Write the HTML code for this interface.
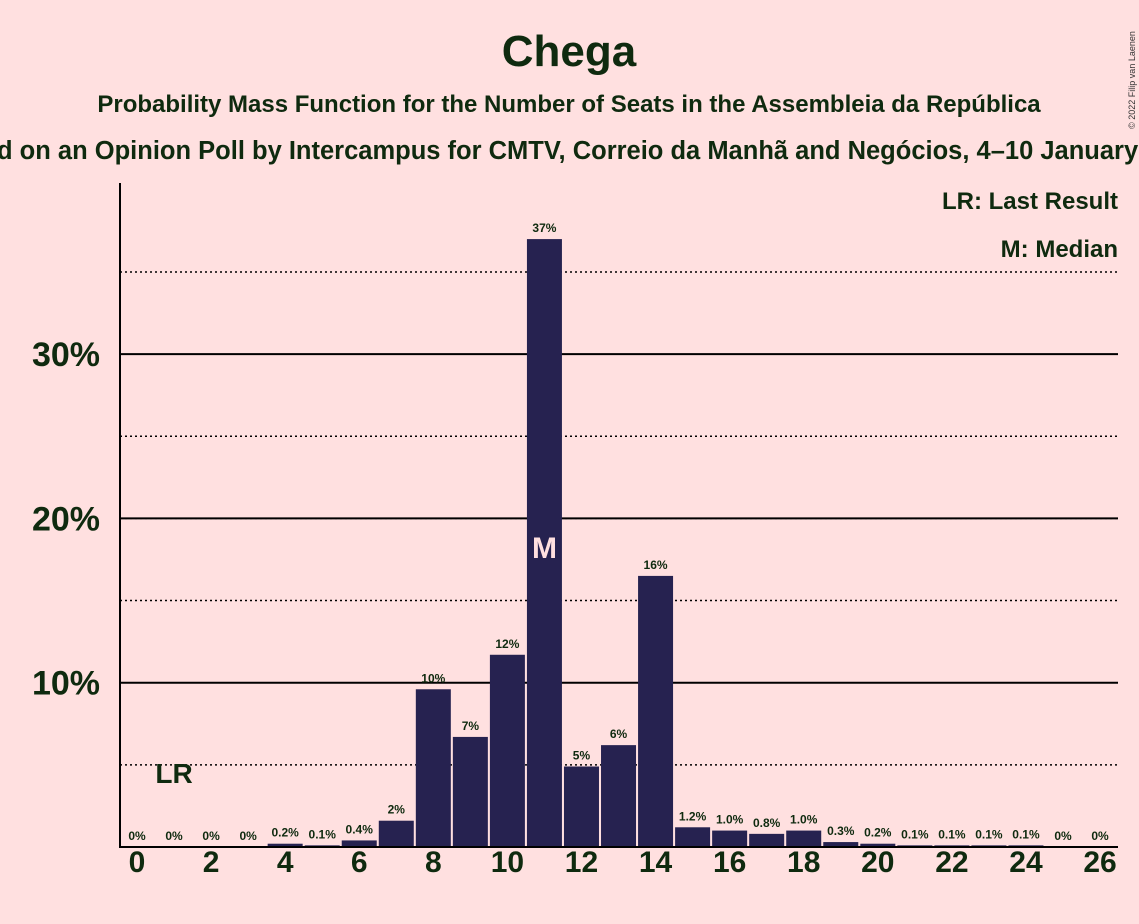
<!DOCTYPE html>
<html><head><meta charset="utf-8"><style>
body{margin:0;background:#ffe0e0;}
svg{display:block;font-family:"Liberation Sans",sans-serif;}
</style></head><body>
<svg id="chart" width="1139" height="924">
<rect width="1139" height="924" fill="#ffe0e0"/>
<text x="569" y="66" text-anchor="middle" font-size="44" font-weight="bold" fill="#0f2a0f">Chega</text>
<text x="569" y="112" text-anchor="middle" font-size="24" font-weight="bold" fill="#0f2a0f">Probability Mass Function for the Number of Seats in the Assembleia da República</text>
<text x="569" y="159" text-anchor="middle" font-size="25.5" font-weight="bold" fill="#0f2a0f">Based on an Opinion Poll by Intercampus for CMTV, Correio da Manhã and Negócios, 4–10 January 2022</text>
<text transform="translate(1135,80) rotate(-90)" text-anchor="middle" font-size="9" fill="#333">© 2022 Filip van Laenen</text>
<g id="grid"></g>
<g id="bars"></g>
<g id="labels"></g>
<line x1="120" y1="183" x2="120" y2="848" stroke="#000" stroke-width="2"/>
<line x1="119" y1="847" x2="1118" y2="847" stroke="#000" stroke-width="2"/>
<text x="1118" y="209" text-anchor="end" font-size="24" font-weight="bold" fill="#0f2a0f">LR: Last Result</text>
<text x="1118" y="257" text-anchor="end" font-size="24" font-weight="bold" fill="#0f2a0f">M: Median</text>
</svg>
<script>
const seats=[0,1,2,3,4,5,6,7,8,9,10,11,12,13,14,15,16,17,18,19,20,21,22,23,24,25,26];
const probs=[0,0,0,0,0.2,0.1,0.4,1.6,9.6,6.7,11.7,37.0,4.9,6.2,16.5,1.2,1.0,0.8,1.0,0.3,0.2,0.1,0.1,0.1,0.1,0,0];
const barLabels=["0%","0%","0%","0%","0.2%","0.1%","0.4%","2%","10%","7%","12%","37%","5%","6%","16%","1.2%","1.0%","0.8%","1.0%","0.3%","0.2%","0.1%","0.1%","0.1%","0.1%","0%","0%"];
const yTicks=[10,20,30];
const yDotted=[5,10,15,20,25,35];
const xTicks=[0,2,4,6,8,10,12,14,16,18,20,22,24,26];
const lastResult=1;
const median=11;
const NS="http://www.w3.org/2000/svg";
const xS=s=>137+s*37.04;
const yS=p=>847-p*16.43;
function mk(tag,attrs,parent,text){const e=document.createElementNS(NS,tag);for(const k in attrs)e.setAttribute(k,attrs[k]);if(text!==undefined)e.textContent=text;parent.appendChild(e);return e;}
const svg=document.getElementById('chart'),grid=document.getElementById('grid'),bars=document.getElementById('bars'),labels=document.getElementById('labels');
yDotted.forEach(v=>{const l=mk('line',{x1:120,x2:1118,y1:yS(v),y2:yS(v),stroke:'#000','stroke-dasharray':'2,3','stroke-width':1.5},grid);

});
yTicks.forEach(v=>{const l=mk('line',{x1:120,x2:1118,y1:yS(v),y2:yS(v),stroke:'#000','stroke-width':2},grid);


const t=mk('text',{x:100,y:yS(v)+12,'text-anchor':'end','font-size':34,'font-weight':'bold',fill:'#0f2a0f'},labels,v+'%');

});
seats.forEach((s,i)=>{const p=probs[i];const h=p*16.43;
if(p>0){const r=mk('rect',{x:xS(s)-17.5,y:847-h,width:35,height:h,fill:'#262250'},bars);

}
const t=mk('text',{x:xS(s),y:(p>0?847-h:847)-7,'text-anchor':'middle','font-size':12,'font-weight':'bold',fill:'#0f2a0f'},labels,barLabels[i]);

});
xTicks.forEach(s=>{const t=mk('text',{x:xS(s),y:872,'text-anchor':'middle','font-size':30,'font-weight':'bold',fill:'#0f2a0f'},labels,String(s));

});
const lr=mk('text',{x:xS(lastResult),y:783,'text-anchor':'middle','font-size':28,'font-weight':'bold',fill:'#0f2a0f'},labels,'LR');


const m=mk('text',{x:xS(median),y:558,'text-anchor':'middle','font-size':30,'font-weight':'bold',fill:'#ffe0e0'},labels,'M');


</script>
</body></html>
